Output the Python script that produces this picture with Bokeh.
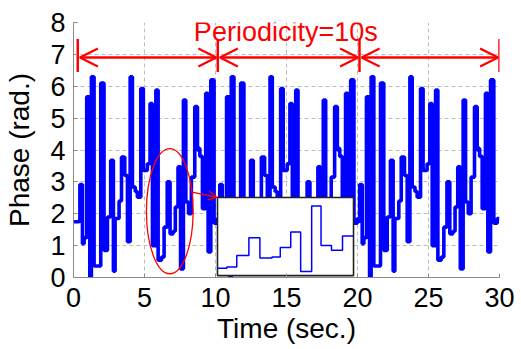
from bokeh.plotting import figure
from bokeh.models import Range1d, Label, Arrow, OpenHead, FixedTicker
from bokeh.embed import file_html
from bokeh.resources import INLINE

# ---- data ----
# one period of the phase signal: breakpoints (s, relative to period start) and level after each
period_rel_t = [0.00, 0.10, 0.15, 0.33, 0.45, 0.63, 0.85, 0.96, 1.15, 1.62,
                1.85, 2.09, 2.32, 2.51, 2.63, 2.91, 3.08, 3.31, 3.50, 3.69,
                3.85, 4.05, 4.20, 4.44, 4.62, 4.90, 5.09, 5.26, 5.50, 5.66,
                5.90, 6.08, 6.30, 6.50, 6.72, 6.87, 7.06, 7.24, 7.44, 7.61,
                7.80, 8.00, 8.24, 8.43, 8.50, 8.60, 8.78, 9.01, 9.18, 9.37,
                9.60, 9.84]
period_phase = [1.75, 1.80, 2.92, 1.06, 1.25, 5.67, -0.05, 6.30, 0.36, 6.10,
                0.85, 1.90, 3.68, 0.20, 1.85, 2.40, 3.78, 3.20, 1.12, 6.30,
                2.84, 2.70, 2.52, 5.93, 3.36, 3.57, 5.46, 1.00, 5.88, 0.54,
                0.64, 1.58, 3.00, 1.37, 1.45, 2.21, 3.47, 0.27, 5.57, 2.37,
                2.00, 3.15, 5.36, 4.00, 4.05, 3.80, 2.16, 5.78, 0.80, 6.20,
                1.70, 1.85]
period_starts = [0.30, 10.15, 20.00]
start_phase = 1.75
period_marks = [0.30, 10.16, 20.14, 30.0]
x_ticks = [0, 5, 10, 15, 20, 25, 30]
y_ticks = [0, 1, 2, 3, 4, 5, 6, 7, 8]
inset_window = (6.03, 8.50)        # time window shown in the inset (s)
inset_phase_window = (-0.05, 6.25)  # phase window shown in the inset
zoom_ellipse = dict(x=6.78, y=2.08, w=3.29, h=3.93)
annot_text = "Periodicity=10s"

# ---- build the full series ----
t_full = [0.0]
v_full = [start_phase]
for s in period_starts:
    for t, v in zip(period_rel_t, period_phase):
        t_full.append(s + t)
        v_full.append(v)
t_full.append(30.0)
v_full.append(v_full[-1])

def value_at(t):
    val = v_full[0]
    for tt, vv in zip(t_full, v_full):
        if tt <= t:
            val = vv
    return val

w0, w1 = inset_window
ins_t = [w0] + [t for t in t_full if w0 < t < w1] + [w1]
ins_v = [value_at(w0)] + [v for t, v in zip(t_full, v_full) if w0 < t < w1] + [value_at(w1)]

# ---- figure ----
X0, X1, Y0, Y1 = 0, 30, 0, 8
p = figure(width=521, height=349, x_range=Range1d(X0, X1), y_range=Range1d(Y0, Y1),
           output_backend="svg", toolbar_location=None,
           min_border_left=73, min_border_right=22, min_border_top=22, min_border_bottom=72)
p.outline_line_color = None
p.background_fill_color = "white"
p.border_fill_color = "white"

FONT = "Liberation Sans"
for ax in (p.xaxis[0], p.yaxis[0]):
    ax.axis_line_color = "#8a8a8a"
    ax.major_tick_line_color = "#8a8a8a"
    ax.major_tick_in = 4
    ax.major_tick_out = 0
    ax.minor_tick_line_color = None
    ax.major_label_text_font = FONT
    ax.major_label_text_font_size = "27px"
    ax.major_label_text_color = "black"
    ax.major_label_standoff = 8
    ax.axis_label_text_font = FONT
    ax.axis_label_text_font_size = "28px"
    ax.axis_label_text_font_style = "normal"
    ax.axis_label_text_color = "black"
p.xaxis[0].ticker = FixedTicker(ticks=x_ticks)
p.yaxis[0].ticker = FixedTicker(ticks=y_ticks)
p.xaxis[0].axis_label = "Time (sec.)"
p.xaxis[0].major_label_standoff = 10
p.xaxis[0].axis_label_standoff = 3
p.yaxis[0].axis_label = "Phase (rad.)"
p.yaxis[0].axis_label_standoff = 12

for g in (p.xgrid[0], p.ygrid[0]):
    g.grid_line_color = "#bdbdbd"
    g.grid_line_dash = "4 3"
    g.grid_line_width = 1

# main signal
p.step(t_full, v_full, mode="after", line_color="#0000ff", line_width=3.6)

# ellipse and pointer
p.ellipse(x=[zoom_ellipse["x"]], y=[zoom_ellipse["y"]], width=[zoom_ellipse["w"]],
          height=[zoom_ellipse["h"]], fill_color=None, line_color="red", line_width=1.3)

# inset box (main coords) and inset ranges
bx0, bx1, by0, by1 = 10.14, 19.72, 0.06, 2.51
p.quad(left=[bx0], right=[bx1], bottom=[by0], top=[by1], fill_color="white",
       line_color="#222222", line_width=1.6)
sx = (w1 - w0) / (bx1 - bx0)
p.extra_x_ranges = {"ix": Range1d(w0 - (bx0 - X0) * sx, w0 + (X1 - bx0) * sx)}
h0, h1 = inset_phase_window
sy = (h1 - h0) / (by1 - by0)
p.extra_y_ranges = {"iy": Range1d(h0 - (by0 - Y0) * sy, h0 + (Y1 - by0) * sy)}
p.step(ins_t, ins_v, mode="after", line_color="#0000ff", line_width=1.5,
       x_range_name="ix", y_range_name="iy")

p.add_layout(Arrow(end=OpenHead(size=9, line_color="red", line_width=1.3),
                   x_start=8.36, y_start=2.68, x_end=bx0 - 0.02, y_end=2.51,
                   line_color="red", line_width=1.3))

# periodicity markers
p.segment(x0=period_marks, y0=[6.45] * 4, x1=period_marks, y1=[7.48] * 4,
          line_color="red", line_width=2.5)
for a, b in zip(period_marks[:-1], period_marks[1:]):
    p.add_layout(Arrow(start=OpenHead(size=18, line_color="red", line_width=2.2),
                       end=OpenHead(size=18, line_color="red", line_width=2.2),
                       x_start=a + 0.15, y_start=6.9, x_end=b - 0.1, y_end=6.9,
                       line_color="red", line_width=2.5))

p.add_layout(Label(x=14.95, y=7.70, text=annot_text, text_align="center",
                   text_baseline="alphabetic", text_font=FONT, text_font_size="27px",
                   text_color="red"))

open("out.html", "w").write(file_html(p, INLINE))
